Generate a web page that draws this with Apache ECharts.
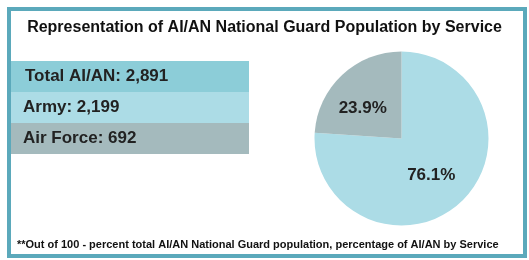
<!DOCTYPE html>
<html>
<head>
<meta charset="utf-8">
<script src="https://cdn.jsdelivr.net/npm/echarts@6/dist/echarts.min.js"></script>
<style>
  html, body { margin: 0; padding: 0; background: #fff; }
  #chart { width: 529px; height: 260px; }
</style>
</head>
<body>
<div id="chart"></div>
<script>
// data
const services = ['Army', 'Air Force'];
const counts = [2199, 692];
const totalLabel = 'Total AI/AN';
const total = counts.reduce((a, b) => a + b, 0);

const sliceColors = ['#acdce6', '#a4babd'];
const rowColors = ['#8ccdd8', '#acdce6', '#a4babd'];
const labelNudge = [[-2, 3], [-7, 4]];

document.addEventListener('DOMContentLoaded', () => {
    const chart = echarts.init(document.getElementById('chart'));

    const fmt = n => n.toLocaleString('en-US');
    const rows = [totalLabel + ': ' + fmt(total)].concat(
        services.map((s, i) => s + ': ' + fmt(counts[i]))
    );

    const rowTop = 61, rowH = 31;
    const rowGraphics = [];
    rows.forEach((text, i) => {
        rowGraphics.push({
            type: 'rect',
            shape: { x: 11, y: rowTop + i * rowH, width: 238, height: rowH },
            style: { fill: rowColors[i] }
        });
        rowGraphics.push({
            type: 'text',
            x: i === 0 ? 25 : 23,
            y: rowTop + i * rowH + rowH / 2,
            style: {
                text: text,
                font: 'bold 17px "Liberation Sans", Arial, sans-serif',
                fill: '#222',
                verticalAlign: 'middle'
            }
        });
    });

    const option = {
        animation: false,
        title: [{
            text: 'Representation of AI/AN National Guard Population by Service',
            left: 'center',
            top: 20,
            padding: 0,
            textStyle: {
                fontFamily: '"Liberation Sans", Arial, sans-serif',
                fontSize: 16,
                fontWeight: 'bold',
                color: '#111'
            }
        }, {
            text: '**Out of 100 - percent total AI/AN National Guard population, percentage of AI/AN by Service',
            left: 17,
            top: 239,
            padding: 0,
            textStyle: {
                fontFamily: '"Liberation Sans", Arial, sans-serif',
                fontSize: 11,
                fontWeight: 'bold',
                color: '#111'
            }
        }],
        graphic: [{
            type: 'rect',
            shape: { x: 9, y: 9, width: 516, height: 247 },
            style: { fill: 'none', stroke: '#5ba9bb', lineWidth: 4 },
            z: 10
        }].concat(rowGraphics),
        series: [{
            type: 'pie',
            center: [401.5, 138.5],
            radius: 87,
            startAngle: 90,
            clockwise: true,
            percentPrecision: 1,
            label: {
                show: true,
                position: 'inside',
                formatter: '{d}%',
                fontFamily: '"Liberation Sans", Arial, sans-serif',
                fontSize: 17,
                fontWeight: 'bold',
                color: '#222'
            },
            labelLine: { show: false },
            itemStyle: { borderWidth: 0 },
            emphasis: { disabled: true },
            data: services.map((s, i) => ({
                name: s,
                value: counts[i],
                itemStyle: { color: sliceColors[i] },
                label: { offset: labelNudge[i] }
            }))
        }]
    };

    chart.setOption(option);
});
</script>
</body>
</html>
